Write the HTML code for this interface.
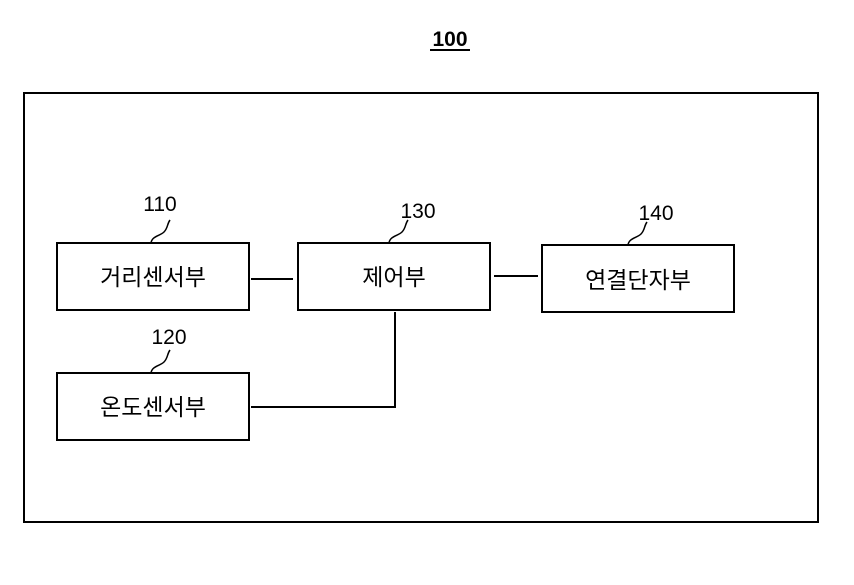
<!DOCTYPE html>
<html><head><meta charset="utf-8"><style>
body{margin:0;background:#fff;}
svg text{font-family:"Liberation Sans","Noto Sans CJK KR",sans-serif;fill:#000;}
</style></head><body>
<svg width="854" height="580" viewBox="0 0 854 580" xmlns="http://www.w3.org/2000/svg">
<text x="450" y="46" font-size="21" font-weight="bold" text-anchor="middle">100</text>
<line x1="430" y1="50" x2="470" y2="50" stroke="#000" stroke-width="2"/>
<rect x="24" y="93" width="794" height="429" fill="none" stroke="#000" stroke-width="2"/>
<g fill="none" stroke="#000" stroke-width="2">
<rect x="57" y="243" width="192" height="67"/>
<rect x="298" y="243" width="192" height="67"/>
<rect x="542" y="245" width="192" height="67"/>
<rect x="57" y="373" width="192" height="67"/>
<line x1="251" y1="279" x2="293" y2="279"/>
<line x1="494" y1="276" x2="538" y2="276"/>
<polyline points="395,312 395,407 251,407"/>
</g>
<g fill="none" stroke="#000" stroke-width="1.5">
<path d="M151,243 C152,236 160,236 164,232 C168,228 167,224 170,220"/>
<path d="M389,243 C390,236 398,236 402,232 C406,228 405,224 408,220"/>
<path d="M628,245 C629,238 637,238 641,234 C645,230 644,226 647,222"/>
<path d="M151,373 C152,366 160,366 164,362 C168,358 167,354 170,350"/>
</g>
<g font-size="21">
<text x="160" y="211" text-anchor="middle">110</text>
<text x="418" y="218" text-anchor="middle">130</text>
<text x="656" y="220" text-anchor="middle">140</text>
<text x="169" y="344" text-anchor="middle">120</text>
</g>
<g font-size="23" text-anchor="middle">
<text x="153" y="285">거리센서부</text>
<text x="394" y="285">제어부</text>
<text x="638" y="288">연결단자부</text>
<text x="153" y="415">온도센서부</text>
</g>
</svg>
</body></html>
